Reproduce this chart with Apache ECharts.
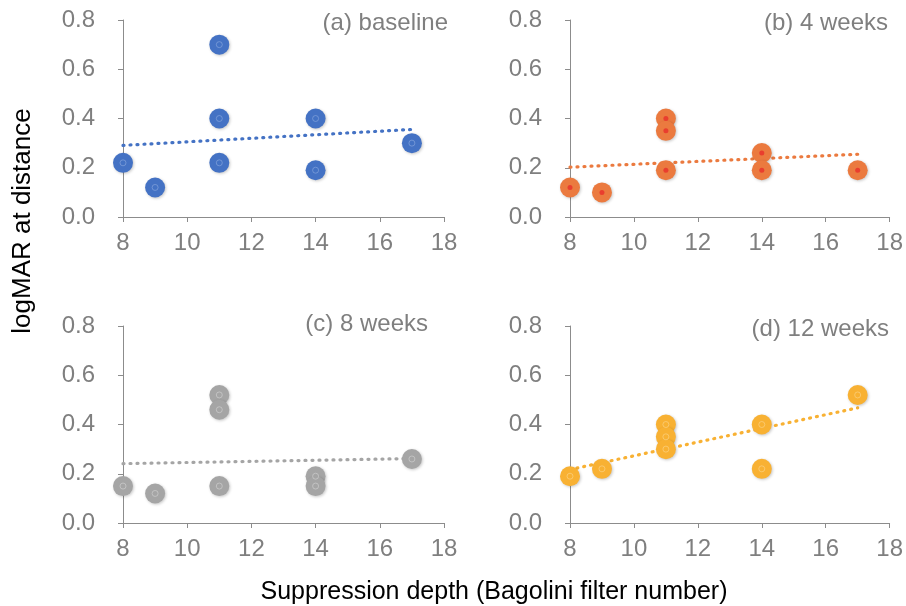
<!DOCTYPE html>
<html>
<head>
<meta charset="utf-8">
<script src="https://cdn.jsdelivr.net/npm/echarts@6/dist/echarts.min.js"></script>
<style>html,body{margin:0;padding:0;background:#fff}#c{width:906px;height:606px}</style>
</head>
<body>
<div id="c"></div>
<script>
const depth = [8, 9, 11, 11, 11, 14, 14, 17];
const baseline = [0.22, 0.12, 0.70, 0.40, 0.22, 0.40, 0.19, 0.30];
const week4 = [0.12, 0.10, 0.40, 0.35, 0.19, 0.26, 0.19, 0.19];
const week8 = [0.15, 0.12, 0.52, 0.46, 0.15, 0.19, 0.15, 0.26];
const week12 = [0.19, 0.22, 0.40, 0.35, 0.30, 0.40, 0.22, 0.52];
const panelTitles = ['(a) baseline', '(b) 4 weeks', '(c) 8 weeks', '(d) 12 weeks'];
const yTitle = 'logMAR at distance';
const xTitle = 'Suppression depth (Bagolini filter number)';

const panels = [baseline, week4, week8, week12];
const colors = ['#4472C4', '#EB7A3F', '#A5A5A5', '#F8B133'];
const innerColors = ['#8aa8de', '#E8302A', '#d2d2d2', '#fcd58a'];
const innerFill = [false, true, false, false];

const grids = [
  {left: 123, top: 20, width: 321, height: 197},
  {left: 570, top: 20, width: 320, height: 197},
  {left: 123, top: 326, width: 321, height: 197},
  {left: 570, top: 326, width: 320, height: 197}
];
const titlePos = [[448, 23], [888, 23], [428, 324], [889, 329]];

function fit(xs, ys) {
  const n = xs.length;
  const mx = xs.reduce((a, b) => a + b, 0) / n;
  const my = ys.reduce((a, b) => a + b, 0) / n;
  let sxy = 0, sxx = 0;
  for (let i = 0; i < n; i++) { sxy += (xs[i] - mx) * (ys[i] - my); sxx += (xs[i] - mx) ** 2; }
  const b = sxy / sxx, a = my - b * mx;
  const x0 = Math.min(...xs), x1 = Math.max(...xs);
  return [[x0, a + b * x0], [x1, a + b * x1]];
}

const FONT = '"Liberation Sans", Arial, sans-serif';
const grey = '#7f7f7f';
const xAxis = [], yAxis = [], series = [], graphic = [];
panels.forEach((vals, i) => {
  xAxis.push({
    type: 'value', gridIndex: i, min: 8, max: 18, interval: 2,
    axisLine: {show: true, onZero: false, lineStyle: {color: '#8c8c8c', width: 1}},
    axisTick: {show: true, length: 5, lineStyle: {color: '#8c8c8c'}},
    splitLine: {show: false},
    axisLabel: {color: grey, fontSize: 24, fontFamily: FONT, margin: 14}
  });
  yAxis.push({
    type: 'value', gridIndex: i, min: 0, max: 0.8, interval: 0.2,
    axisLine: {show: true, lineStyle: {color: '#8c8c8c', width: 1}},
    axisTick: {show: true, length: 5, lineStyle: {color: '#8c8c8c'}},
    splitLine: {show: false},
    axisLabel: {color: grey, fontSize: 24, fontFamily: FONT, margin: 28, formatter: v => v.toFixed(1)}
  });
  const pts = depth.map((d, k) => [d, vals[k]]);
  series.push({
    type: 'line', xAxisIndex: i, yAxisIndex: i, data: fit(depth, vals),
    symbol: 'none', silent: true, z: 1,
    lineStyle: {color: colors[i], width: 3.2, type: [1, 6], cap: 'round'}
  });
  series.push({
    type: 'scatter', xAxisIndex: i, yAxisIndex: i, data: pts, symbolSize: 20, z: 2,
    itemStyle: {color: colors[i], opacity: 1, shadowBlur: 3, shadowOffsetX: 1, shadowOffsetY: 1, shadowColor: 'rgba(0,0,0,0.22)'}
  });
  series.push({
    type: 'scatter', xAxisIndex: i, yAxisIndex: i, data: pts, z: 3, silent: true,
    symbol: 'circle', symbolSize: innerFill[i] ? 5 : 6,
    itemStyle: innerFill[i] ? {color: innerColors[i]} : {color: colors[i], borderColor: innerColors[i], borderWidth: 0.8}
  });
  graphic.push({
    type: 'text', x: titlePos[i][0], y: titlePos[i][1],
    style: {text: panelTitles[i], fill: grey, font: '24px ' + FONT, textAlign: 'right', textVerticalAlign: 'middle'}
  });
});
graphic.push({
  type: 'text', x: 23, y: 221, rotation: Math.PI / 2,
  style: {text: yTitle, fill: '#000', font: '26px ' + FONT, textAlign: 'center', textVerticalAlign: 'middle'}
});
graphic.push({
  type: 'text', x: 494, y: 592,
  style: {text: xTitle, fill: '#000', font: '25px ' + FONT, textAlign: 'center', textVerticalAlign: 'middle'}
});

const chart = echarts.init(document.getElementById('c'), null, {renderer: 'canvas'});
chart.setOption({
  animation: false,
  backgroundColor: '#fff',
  grid: grids,
  xAxis, yAxis, series, graphic
});
</script>
</body>
</html>
